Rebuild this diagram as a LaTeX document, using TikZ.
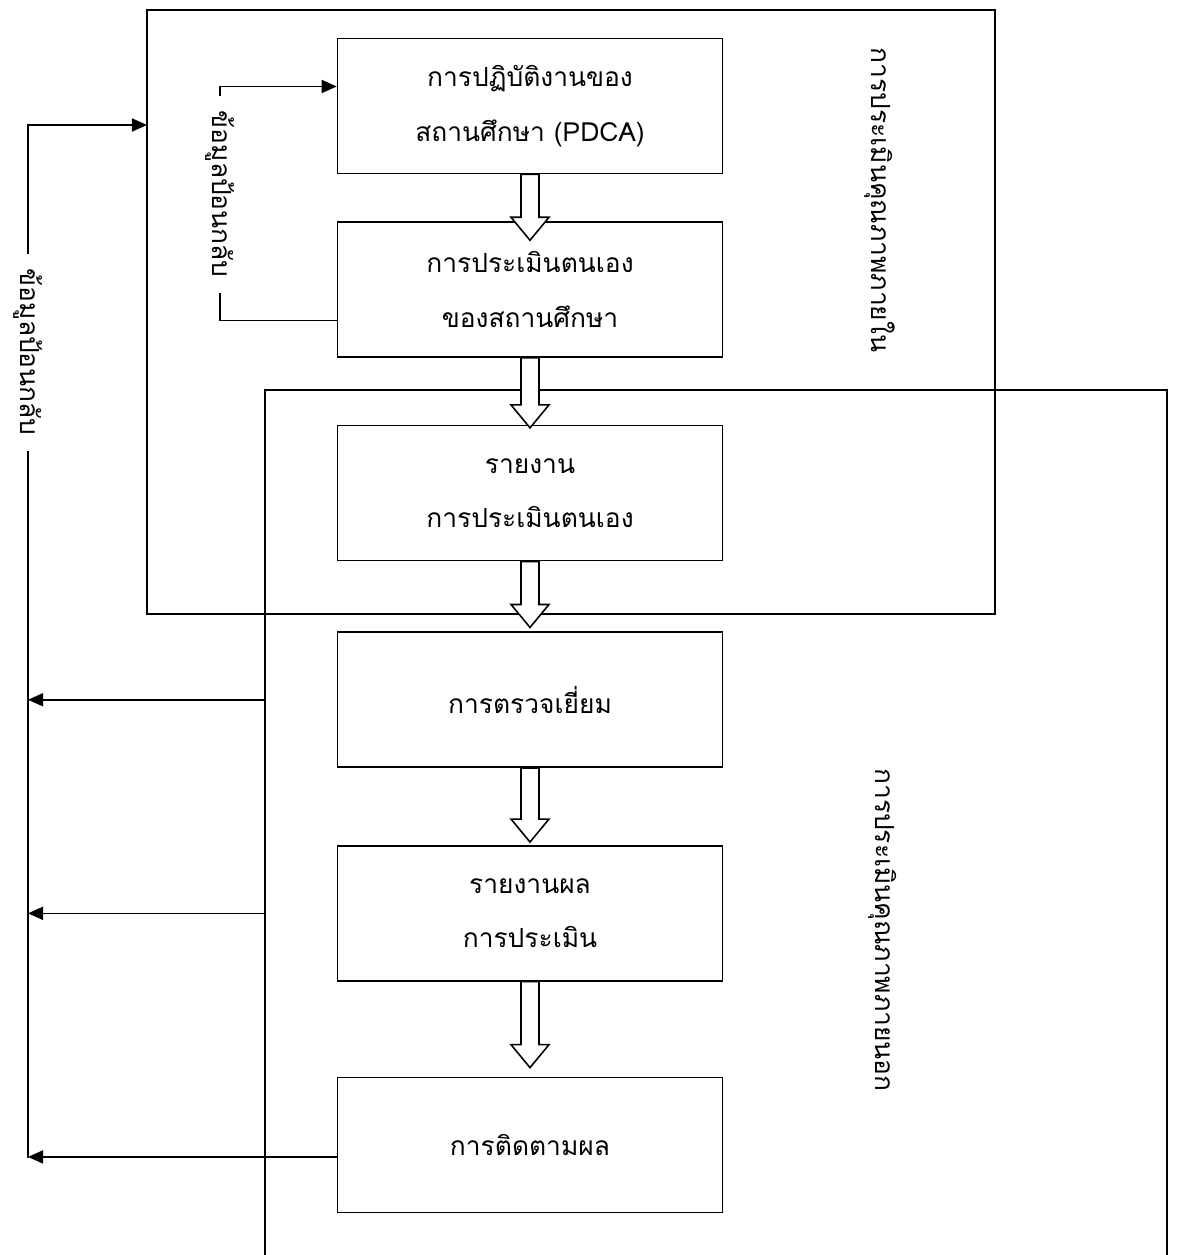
\documentclass[tikz,border=0pt]{standalone}
\usepackage{fontspec}
\newfontfamily\thaifont[Script=Thai]{Loma}
\usetikzlibrary{arrows.meta,positioning,calc}
\tikzset{%
  >={Triangle[width=2.6mm,length=3mm]},
  base/.style = {rectangle, draw=black, line width=0.9pt,
      minimum width=77mm, minimum height=27mm,
      align=center, font=\thaifont\fontsize{15}{31}\selectfont},
  stage/.style = {base, fill=white},
  frame/.style = {draw=black, line width=0.7pt},
  feedback/.style = {draw=black, line width=0.9pt},
  sidetext/.style = {rotate=-90, font=\thaifont\fontsize{15}{18}\selectfont},
  feedtext/.style = {sidetext, fill=white, inner sep=3mm},
  flowarrow/.style = {draw=black, fill=white, line width=0.9pt, line join=miter},
}
% hollow arrow between two stages, optional shift of the tip
\newcommand{\hollowarrow}[3][0]{%
  \draw[flowarrow] ($(#2.south)+(-9,0)$) -- ($(#3.north)+(-9,#1-23)$)
    -- ++(-10,0) -- ($(#3.north)+(0,#1)$) -- ($(#3.north)+(19,#1-23)$)
    -- ++(-10,0) -- ($(#2.south)+(9,0)$) -- cycle;}

\begin{document}
\begin{tikzpicture}[x=0.2mm, y=-0.2mm]
  \useasboundingbox (0,0) rectangle (1176,1255);
  % Specification of frames
  \node (internal) [frame, minimum width=169.6mm, minimum height=120.8mm,
                    inner sep=0pt, outer sep=0pt] at (571,312) {};
  \coordinate (extSW) at (265,1255);
  \coordinate (extNW) at (265,390);
  \coordinate (extNE) at (1167,390);
  \coordinate (extSE) at (1167,1255);
  \draw[frame] (extSW) -- (extNW) -- (extNE) -- (extSE);

  % Specification of nodes (position, etc.)
  \node (practice)   [stage] at (530,106) {การปฏิบัติงานของ\\สถานศึกษา (PDCA)};
  \node (selfEval)   [stage, below=9.4mm of practice]   {การประเมินตนเอง\\ของสถานศึกษา};
  \node (selfReport) [stage, below=13.4mm of selfEval]  {รายงาน\\การประเมินตนเอง};
  \node (visit)      [stage, below=14.0mm of selfReport] {การตรวจเยี่ยม};
  \node (evalReport) [stage, below=15.4mm of visit]      {รายงานผล\\การประเมิน};
  \node (followUp)   [stage, below=19.0mm of evalReport] {การติดตามผล};
  \node (intLabel)   [sidetext] at (880,200) {การประเมินคุณภาพภายใน};
  \node (extLabel)   [sidetext] at (883,930) {การประเมินคุณภาพภายนอก};
  \coordinate (fbBottom) at (28,1158);

  % Specification of lines between nodes specified above
  \hollowarrow[19]{practice}{selfEval}
  \hollowarrow[3]{selfEval}{selfReport}
  \hollowarrow[-4]{selfReport}{visit}
  \hollowarrow[-3]{visit}{evalReport}
  \hollowarrow[-9]{evalReport}{followUp}

  % feedback loops
  \draw[->, feedback] ($(selfEval.west)+(0,31)$) -- ++(-117,0) |-
      node[feedtext, pos=0.27] {ข้อมูลป้อนกลับ} ($(practice.west)+(0,-19.5)$);
  \draw[->, feedback] (fbBottom) |- node[feedtext, pos=0.39] {ข้อมูลป้อนกลับ}
      ($(internal.north west)+(0,115)$);
  \draw[->, feedback] (visit.west -| extNW) -- (visit.west -| fbBottom);
  \draw[->, feedback] (evalReport.west -| extNW) -- (evalReport.west -| fbBottom);
  \draw[->, feedback] ($(followUp.west)+(0,12)$) -- ($(followUp.west -| fbBottom)+(0,12)$);
\end{tikzpicture}
\end{document}
